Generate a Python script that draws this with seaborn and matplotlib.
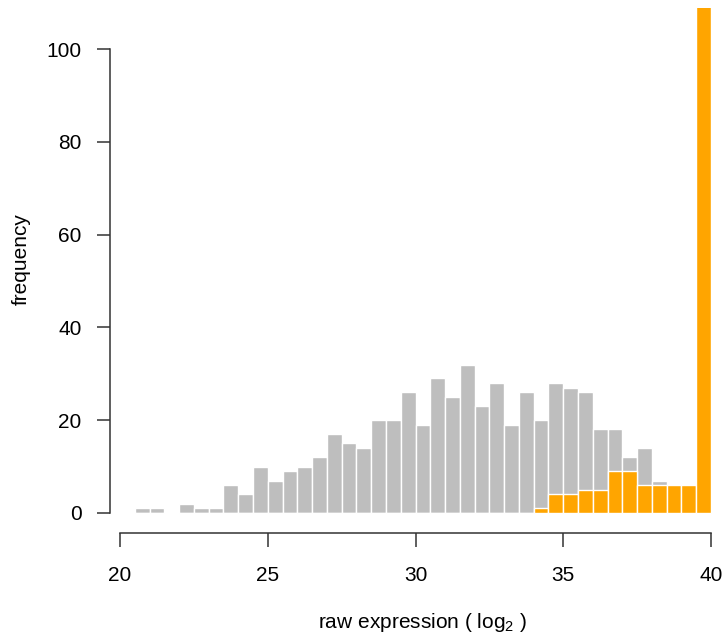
import numpy as np
import pandas as pd
import matplotlib
matplotlib.use("Agg")
import matplotlib.pyplot as plt
import seaborn as sns

# Histogram bins (log2 raw expression), width 0.5 from 20 to 40
bin_edges = [20.0 + 0.5 * i for i in range(41)]
bin_centers = [(a + b) / 2 for a, b in zip(bin_edges[:-1], bin_edges[1:])]

# Counts of all probes per bin
all_counts = [0, 1, 1, 0, 2, 1, 1, 6, 4, 10,
              7, 9, 10, 12, 17, 15, 14, 20, 20, 26,
              19, 29, 25, 32, 23, 28, 19, 26, 20, 28,
              27, 26, 18, 18, 12, 14, 7, 6, 6, 120]

# Counts of the highlighted subset per bin
subset_counts = [0, 0, 0, 0, 0, 0, 0, 0, 0, 0,
                 0, 0, 0, 0, 0, 0, 0, 0, 0, 0,
                 0, 0, 0, 0, 0, 0, 0, 0, 1, 4,
                 4, 5, 5, 9, 9, 6, 6, 6, 6, 120]

y_ticks = [0, 20, 40, 60, 80, 100]
x_ticks = [20, 25, 30, 35, 40]

df = pd.DataFrame({"expr": bin_centers,
                   "all": all_counts,
                   "subset": subset_counts})

sns.set_style("white")
plt.rcParams["font.family"] = ["Liberation Sans", "DejaVu Sans"]
plt.rcParams["mathtext.default"] = "regular"
plt.rcParams["text.color"] = "black"

W, H = 726, 637
fig = plt.figure(figsize=(W / 100, H / 100), dpi=100)

# Axes box in pixels: left 100, right 726, top 8, bottom 533
ax = fig.add_axes([100 / W, (H - 533) / H, 626 / W, 525 / H])

sns.histplot(data=df, x="expr", weights="all", bins=bin_edges,
             color="#BEBEBE", edgecolor="white", linewidth=1.0,
             alpha=1, ax=ax)
sns.histplot(data=df, x="expr", weights="subset", bins=bin_edges,
             color="#FFA500", edgecolor="white", linewidth=1.0,
             alpha=1, ax=ax)

px_per_unit_x = (711 - 120) / 20.0
px_per_unit_y = (513 - 49) / 100.0
x0 = 20 - (120 - 100) / px_per_unit_x
x1 = 20 + (726 - 120) / px_per_unit_x
y0 = -(533 - 513) / px_per_unit_y
y1 = (513 - 8) / px_per_unit_y
ax.set_xlim(x0, x1)
ax.set_ylim(y0, y1)

ax.set_xlabel("")
ax.set_ylabel("")
ax.set_xticks(x_ticks)
ax.set_yticks(y_ticks)
ax.set_xticklabels([str(t) for t in x_ticks])
ax.set_yticklabels([str(t) for t in y_ticks])

for s in ["top", "right"]:
    ax.spines[s].set_visible(False)
axis_color = "#333333"
ax.spines["left"].set_position(("data", 20 - (120 - 110) / px_per_unit_x))
ax.spines["left"].set_bounds(0, 100)
ax.spines["bottom"].set_bounds(20, 40)
for s in ["left", "bottom"]:
    ax.spines[s].set_color(axis_color)
    ax.spines[s].set_linewidth(1.1)

ax.tick_params(axis="y", direction="out", length=9.4, width=1.1,
               pad=11, labelsize=15, color=axis_color, labelcolor="black",
               left=True)
ax.tick_params(axis="x", direction="out", length=10, width=1.1,
               pad=13.5, labelsize=15, color=axis_color, labelcolor="black",
               bottom=True)
ax.grid(False)

fig.text(21 / W, 1 - 259 / H, "frequency", rotation=90,
         ha="center", va="center", fontsize=15, color="black")
fig.text(423 / W, 1 - 622 / H, "raw expression ( log$_2$ )",
         ha="center", va="center", fontsize=15, color="black")

fig.savefig("out.png", dpi=100)
